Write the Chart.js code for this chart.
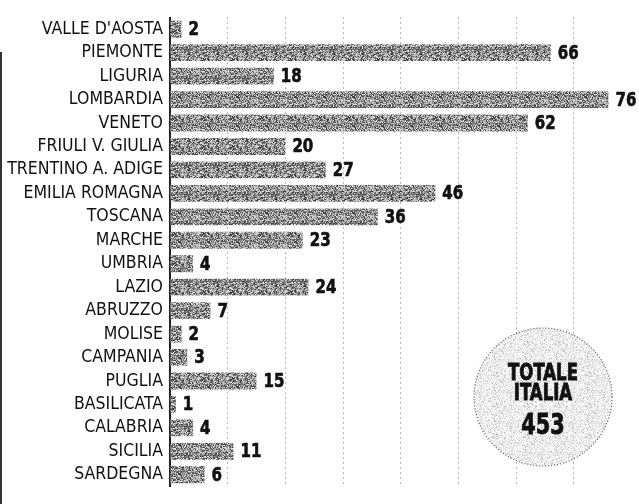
<!DOCTYPE html>
<html>
<head>
<meta charset="utf-8">
<script src="https://cdn.jsdelivr.net/npm/chart.js@4.4.1/dist/chart.umd.min.js"></script>
<style>
  html, body { margin: 0; padding: 0; background: #fff; }
  #wrap { position: relative; width: 639px; height: 504px; }
  #edge { position: absolute; left: 0; top: 52px; width: 2px; height: 452px; background: #333; }
</style>
</head>
<body>
<div id="wrap">
  <canvas id="chart" width="639" height="504"></canvas>
  <div id="edge"></div>
</div>
<script>
// regions (top to bottom) and their counts
const regions = ["VALLE D'AOSTA", 'PIEMONTE', 'LIGURIA', 'LOMBARDIA', 'VENETO', 'FRIULI V. GIULIA',
  'TRENTINO A. ADIGE', 'EMILIA ROMAGNA', 'TOSCANA', 'MARCHE', 'UMBRIA', 'LAZIO', 'ABRUZZO',
  'MOLISE', 'CAMPANIA', 'PUGLIA', 'BASILICATA', 'CALABRIA', 'SICILIA', 'SARDEGNA'];
const counts = [2, 66, 18, 76, 62, 20, 27, 46, 36, 23, 4, 24, 7, 2, 3, 15, 1, 4, 11, 6];
const totalLabel = ['TOTALE', 'ITALIA'];

const NARROW = "'Liberation Sans Narrow', 'DejaVu Sans Condensed', 'Liberation Sans', sans-serif";

// newsprint-like stipple texture (hash based, fixed)
function makeStipple(size, lo, hi, bias) {
  const c = document.createElement('canvas');
  c.width = size; c.height = size;
  const g = c.getContext('2d');
  const img = g.createImageData(size, size);
  for (let y = 0; y < size; y++) {
    for (let x = 0; x < size; x++) {
      let h = (x * 374761393 + y * 668265263) | 0;
      h = Math.imul(h ^ (h >>> 13), 1274126177);
      h = (h ^ (h >>> 16)) >>> 0;
      const t = Math.pow((h % 1000) / 1000, bias);
      const v = Math.round(lo + (hi - lo) * t);
      const k = (y * size + x) * 4;
      img.data[k] = img.data[k + 1] = img.data[k + 2] = v;
      img.data[k + 3] = 255;
    }
  }
  g.putImageData(img, 0, 0);
  return g.createPattern(c, 'repeat');
}
const barFill = makeStipple(29, 45, 235, 1);
const dotFill = makeStipple(31, 150, 255, 0.25);

// numbers at the end of each bar
const valueLabels = {
  id: 'valueLabels',
  afterDatasetsDraw(chart) {
    const ctx = chart.ctx;
    const meta = chart.getDatasetMeta(0);
    ctx.save();
    ctx.font = "bold 19px " + NARROW;
    ctx.fillStyle = '#111';
    ctx.strokeStyle = '#111';
    ctx.lineWidth = 0.6;
    ctx.textBaseline = 'middle';
    meta.data.forEach((bar, i) => {
      ctx.save();
      ctx.translate(bar.x + 7, bar.y + 1);
      ctx.scale(0.88, 1);
      ctx.fillText(String(counts[i]), 0, 0);
      ctx.strokeText(String(counts[i]), 0, 0);
      ctx.restore();
    });
    ctx.restore();
  }
};

// "TOTALE ITALIA 453" badge
const totalBadge = {
  id: 'totalBadge',
  afterDraw(chart) {
    const ctx = chart.ctx;
    const cx = 543, cy = 397, r = 69;
    const total = counts.reduce((a, b) => a + b, 0);
    ctx.save();
    ctx.beginPath();
    ctx.arc(cx, cy, r, 0, Math.PI * 2);
    ctx.fillStyle = '#fff';
    ctx.fill();
    ctx.fillStyle = dotFill;
    ctx.fill();
    ctx.setLineDash([1, 2]);
    ctx.lineWidth = 1.2;
    ctx.strokeStyle = '#555';
    ctx.stroke();
    ctx.setLineDash([]);
    ctx.fillStyle = '#111';
    ctx.strokeStyle = '#111';
    ctx.lineWidth = 0.8;
    ctx.textAlign = 'center';
    ctx.textBaseline = 'middle';
    const line = (txt, y, size) => {
      ctx.save();
      ctx.translate(cx, y);
      ctx.scale(0.8, 1);
      ctx.font = "bold " + size + "px " + NARROW;
      ctx.fillText(txt, 0, 0);
      ctx.strokeText(txt, 0, 0);
      ctx.restore();
    };
    line(totalLabel[0], cy - 23, 23);
    line(totalLabel[1], cy - 3, 23);
    line(String(total), cy + 29, 29);
    ctx.restore();
  }
};

new Chart(document.getElementById('chart'), {
  type: 'bar',
  data: {
    labels: regions,
    datasets: [{
      data: counts,
      backgroundColor: barFill,
      borderWidth: 0,
      barPercentage: 0.72,
      categoryPercentage: 1
    }]
  },
  options: {
    indexAxis: 'y',
    responsive: false,
    animation: false,
    layout: { padding: { top: 6, right: 0, bottom: 0, left: 0 } },
    plugins: { legend: { display: false }, tooltip: { enabled: false } },
    scales: {
      x: {
        min: 0, max: 81.3,
        afterFit: s => { s.height = 0; },
        ticks: { display: false, stepSize: 10 },
        grid: {
          drawTicks: false,
          color: c => (c.tick && c.tick.value === 0) ? 'rgba(0,0,0,0)' : 'rgba(0,0,0,0.55)',
          lineWidth: 1
        },
        border: { display: false, dash: [1, 4] }
      },
      y: {
        afterFit: s => { s.width = 170; },
        grid: { display: false, drawTicks: false },
        border: { display: true, color: '#222', width: 2 },
        ticks: {
          color: '#111',
          padding: 7,
          font: { family: NARROW, size: 17.5 }
        }
      }
    }
  },
  plugins: [valueLabels, totalBadge]
});
</script>
</body>
</html>
